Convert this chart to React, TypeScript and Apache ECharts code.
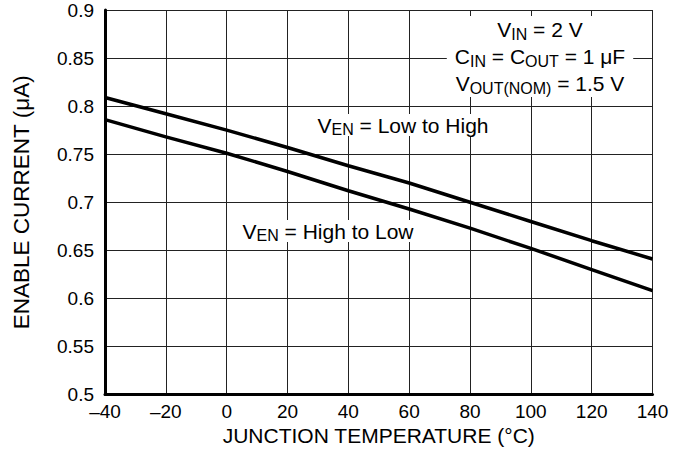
import React, { useEffect, useRef } from "react";
import * as echarts from "echarts";

const temperatures = [-40, -20, 0, 20, 40, 60, 80, 100, 120, 140];
const lowToHigh = [0.809, 0.792, 0.775, 0.757, 0.738, 0.72, 0.7, 0.68, 0.66, 0.641];
const highToLow = [0.786, 0.768, 0.751, 0.732, 0.712, 0.693, 0.673, 0.652, 0.63, 0.608];
const xTicks = { min: -40, max: 140, step: 20 };
const yTicks = { min: 0.5, max: 0.9, step: 0.05 };

const FONT = "'Liberation Sans', Arial, Helvetica, sans-serif";

const richStyles = {
  n: { fontSize: 21, lineHeight: 27, fontFamily: FONT, color: "#000" },
  s: { fontSize: 16, lineHeight: 17, padding: [10, 0, 0, 0], fontFamily: FONT, color: "#000" },
};
const richStylesSingle = {
  n: { fontSize: 21, lineHeight: 22, fontFamily: FONT, color: "#000" },
  s: { fontSize: 16, lineHeight: 14, padding: [8, 0, 0, 0], fontFamily: FONT, color: "#000" },
};

export default function App() {
  const ref = useRef<HTMLDivElement>(null);
  useEffect(() => {
    if (!ref.current) return;
    const chart = echarts.init(ref.current, undefined, { renderer: "svg" });
    const pairs = (ys: number[]) => temperatures.map((t, i) => [t, ys[i]]);
    chart.setOption({
      animation: false,
      backgroundColor: "#fff",
      grid: { left: 105, right: 25.5, top: 10, bottom: 61.5, containLabel: false },
      xAxis: {
        type: "value",
        min: xTicks.min,
        max: xTicks.max,
        interval: xTicks.step,
        name: "JUNCTION TEMPERATURE (°C)",
        nameLocation: "middle",
        nameGap: 30,
        nameTextStyle: { fontSize: 21, fontFamily: FONT, color: "#000" },
        axisLine: { show: true, onZero: false, lineStyle: { color: "#000", width: 3 } },
        axisTick: { show: false },
        axisLabel: {
          margin: 7,
          fontSize: 19,
          fontFamily: FONT,
          color: "#000",
          formatter: (v: number) => (v < 0 ? "\u2013" + Math.abs(v) : String(v)),
        },
        splitLine: { show: true, lineStyle: { color: "#222", width: 1 } },
      },
      yAxis: {
        type: "value",
        min: yTicks.min,
        max: yTicks.max,
        interval: yTicks.step,
        name: "ENABLE CURRENT (\u03bcA)",
        nameLocation: "middle",
        nameRotate: 90,
        nameGap: 72,
        nameTextStyle: { fontSize: 22.5, fontFamily: FONT, color: "#000" },
        axisLine: { show: true, onZero: false, lineStyle: { color: "#000", width: 3 } },
        axisTick: { show: false },
        axisLabel: {
          margin: 11,
          fontSize: 19,
          fontFamily: FONT,
          color: "#000",
          formatter: (v: number) => String(parseFloat(v.toFixed(2))),
        },
        splitLine: { show: true, lineStyle: { color: "#222", width: 1 } },
      },
      series: [
        {
          name: "VEN = Low to High",
          type: "line",
          data: pairs(lowToHigh),
          showSymbol: false,
          symbol: "none",
          lineStyle: { color: "#000", width: 3.5 },
          z: 3,
        },
        {
          name: "VEN = High to Low",
          type: "line",
          data: pairs(highToLow),
          showSymbol: false,
          symbol: "none",
          lineStyle: { color: "#000", width: 3.5 },
          z: 3,
        },
      ],
      graphic: [
        {
          type: "text",
          x: 540,
          y: 16,
          z: 10,
          style: {
            text: "{n|V}{s|IN}{n| = 2 V}\n{n|C}{s|IN}{n| = C}{s|OUT}{n| = 1 \u03bcF}\n{n|V}{s|OUT(NOM)}{n| = 1.5 V}",
            rich: richStyles,
            align: "center",
            verticalAlign: "top",
            backgroundColor: "#fff",
            padding: [0, 8, 0, 8],
          },
        },
        {
          type: "text",
          x: 403,
          y: 114,
          z: 10,
          style: {
            text: "{n|V}{s|EN}{n| = Low to High}",
            rich: richStylesSingle,
            align: "center",
            verticalAlign: "top",
            backgroundColor: "#fff",
            padding: [0, 2, 0, 2],
          },
        },
        {
          type: "text",
          x: 328,
          y: 220,
          z: 10,
          style: {
            text: "{n|V}{s|EN}{n| = High to Low}",
            rich: richStylesSingle,
            align: "center",
            verticalAlign: "top",
            backgroundColor: "#fff",
            padding: [0, 2, 0, 2],
          },
        },
      ],
    });
    return () => chart.dispose();
  }, []);
  return (
    <div
      ref={ref}
      style={{ position: "fixed", left: 0, top: 0, width: 678, height: 456 }}
    />
  );
}
